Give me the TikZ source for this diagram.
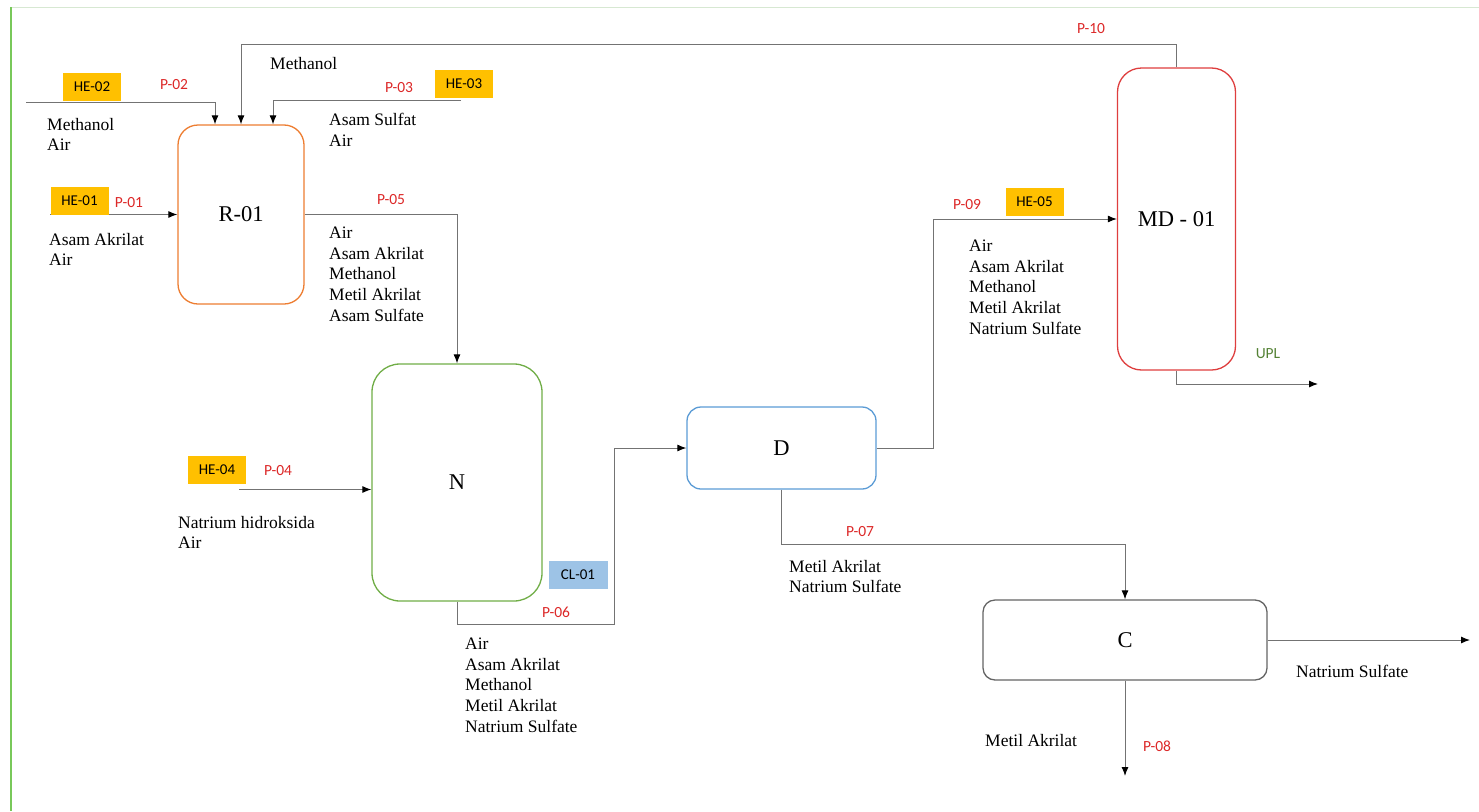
\documentclass[tikz,border=0pt]{standalone}
\usepackage{fontspec}
\setmainfont{Liberation Serif}
\newfontfamily\labfont{Carlito}
\usetikzlibrary{arrows.meta,calc}
\definecolor{cOrange}{RGB}{237,125,49}
\definecolor{cGreen}{RGB}{112,173,71}
\definecolor{cBlue}{RGB}{91,155,213}
\definecolor{cRed}{RGB}{222,62,62}
\definecolor{cGray}{RGB}{100,100,100}
\definecolor{cYellow}{RGB}{255,192,0}
\definecolor{cLightBlue}{RGB}{157,195,230}
\definecolor{cLabel}{RGB}{220,40,40}
\definecolor{cUpl}{RGB}{84,130,53}
\definecolor{cLine}{RGB}{115,115,115}
\definecolor{cBorderV}{RGB}{120,200,90}
\definecolor{cBorderH}{RGB}{215,232,210}
\begin{document}
\begin{tikzpicture}[x=1pt,y=-1pt,
  unit/.style={draw=#1, line width=1.3pt, rectangle, inner sep=0pt,
    font=\fontsize{22.5}{26}\selectfont},
  pipe/.style={draw=cLine, line width=1pt, -{Latex[length=9pt,width=7pt,color=black]}},
  plabel/.style={text=cLabel, font=\labfont\fontsize{15.5}{17}\selectfont, inner sep=0pt},
  hebox/.style={fill=cYellow, minimum width=58pt, minimum height=28pt, inner sep=0pt,
    font=\labfont\fontsize{15}{17}\selectfont},
  clbox/.style={fill=cLightBlue, minimum width=59pt, minimum height=28pt, inner sep=0pt,
    font=\labfont\fontsize{15}{17}\selectfont},
  stream/.style={anchor=north west, inner sep=0pt, align=left,
    font=\fontsize{17.5}{20.6}\selectfont},
]
\useasboundingbox (0,0) rectangle (1479,811);
% page borders
\draw[cBorderH, line width=1pt] (11,7) -- (1479,7);
\draw[cBorderV, line width=1.3pt] (11,7) -- (11,811);

% units
\node[unit=cOrange, rounded corners=20pt, minimum width=126pt, minimum height=179pt] (R) at (241,214.5) {R-01};
\node[unit=cGreen, rounded corners=28pt, minimum width=170pt, minimum height=237pt] (N) at (457,482.5) {N};
\node[unit=cBlue, rounded corners=14pt, minimum width=189pt, minimum height=82pt] (D) at (781.5,448) {D};
\node[unit=cRed, rounded corners=24pt, minimum width=118pt, minimum height=302pt] (MD) at (1176.5,219) {MD - 01};
\node[unit=cGray, rounded corners=12pt, minimum width=284pt, minimum height=80pt] (C) at (1125,640) {C};

% free ends
\coordinate (s02) at (26,102.5);
\coordinate (s03) at (461,100);
\coordinate (s01) at (50,214.5);
\coordinate (s04) at (239,489.5);
\coordinate (b06) at (614,624);
\coordinate (b09) at (933,300);
\coordinate (eupl) at (1318,384);
\coordinate (ens) at (1470,640);
\coordinate (ema) at (1125,776);

% connectors
\draw[pipe] (s02) -| ([xshift=-26pt]R.north);
\draw[pipe] (MD.north) -- ++(0,-23) -| (R.north);
\draw[pipe] (s03) -| ([xshift=32pt]R.north);
\draw[pipe] (s01) -- (R.west);
\draw[pipe] (R.east) -| (N.north);
\draw[pipe] (s04) -- (s04 -| N.west);
\draw[pipe] (N.south) |- (b06) |- (D.west);
\draw[pipe] (D.east) -| (b09) |- (MD.west);
\draw[pipe] (MD.south) |- (eupl);
\draw[pipe] (D.south) |- ([yshift=55pt]C.north) -- (C.north);
\draw[pipe] (C.east) -- (ens);
\draw[pipe] (C.south) -- (ema);

% equipment tags
\node[hebox] (he02) at (92,87) {HE-02};
\node[hebox] (he03) at (464,83.5) {HE-03};
\node[hebox] (he01) at (79.5,201) {HE-01};
\node[hebox] (he04) at (217,470) {HE-04};
\node[hebox] (he05) at (1034.5,201.5) {HE-05};
\node[clbox] (cl01) at (578,575) {CL-01};

% pipe labels
\node[plabel] (p02) at (174,85) {P-02};
\node[plabel] (p03) at (399,88) {P-03};
\node[plabel] (p01) at (129,203) {P-01};
\node[plabel] (p05) at (391,200) {P-05};
\node[plabel] (p04) at (278,471) {P-04};
\node[plabel] (p06) at (556,612) {P-06};
\node[plabel] (p10) at (1091,29) {P-10};
\node[plabel] (p09) at (967,205) {P-09};
\node[plabel] (p07) at (860,532) {P-07};
\node[plabel] (p08) at (1157,746) {P-08};
\node[plabel, text=cUpl] (upl) at (1268,354) {UPL};

% stream compositions
\node[stream] (t02) at (47,118) {Methanol\\Air};
\node[stream] (t10) at (270,57) {Methanol};
\node[stream] (t03) at (329,113) {Asam Sulfat\\Air};
\node[stream] (t01) at (49,233) {Asam Akrilat\\Air};
\node[stream] (t05) at (329,227) {Air\\Asam Akrilat\\Methanol\\Metil Akrilat\\Asam Sulfate};
\node[stream] (t04) at (178,516) {Natrium hidroksida\\Air};
\node[stream] (t06) at (465,638) {Air\\Asam Akrilat\\Methanol\\Metil Akrilat\\Natrium Sulfate};
\node[stream] (t09) at (969,240) {Air\\Asam Akrilat\\Methanol\\Metil Akrilat\\Natrium Sulfate};
\node[stream] (t07) at (789,560) {Metil Akrilat\\Natrium Sulfate};
\node[stream] (tns) at (1296,665) {Natrium Sulfate};
\node[stream] (tma) at (985,734) {Metil Akrilat};
\end{tikzpicture}
\end{document}
